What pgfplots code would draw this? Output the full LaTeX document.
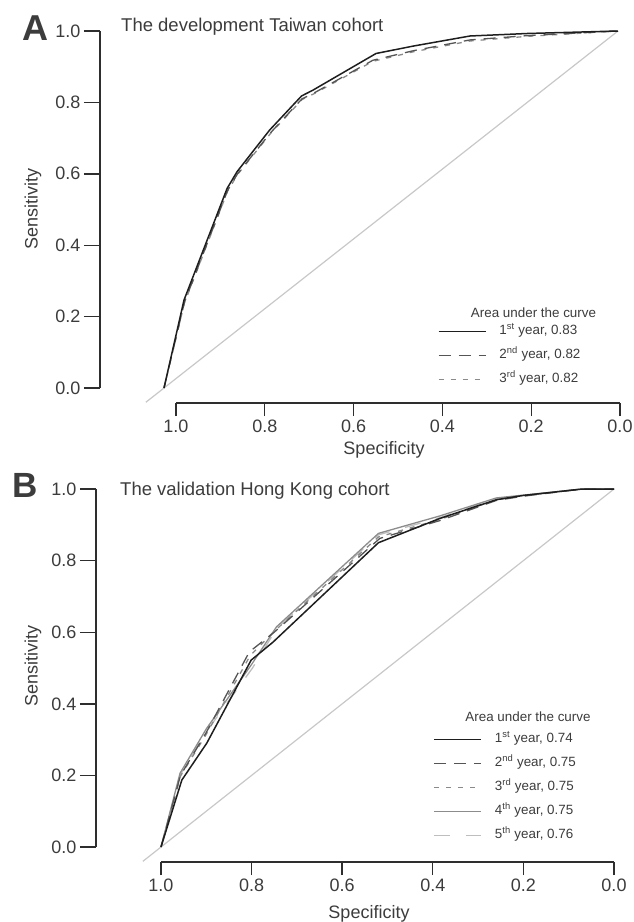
\documentclass[border=0pt]{standalone}
\usepackage{pgfplots}
\pgfplotsset{compat=1.18}
\usepackage{fontspec}
\setmainfont{Liberation Sans}

\definecolor{txt}{HTML}{3C3C3C}
\definecolor{axc}{HTML}{2E2E2E}
\definecolor{c1}{HTML}{1E1E1E}
\definecolor{c2}{HTML}{555555}
\definecolor{c3}{HTML}{8A8A8A}
\definecolor{c4}{HTML}{8C8C8C}
\definecolor{c5}{HTML}{BEBEBE}
\definecolor{diag}{HTML}{C8C8C8}

\pgfplotsset{
 roc/.style={scale only axis, xmin=0, xmax=1, ymin=0, ymax=1, x dir=reverse,
  hide axis, clip=false, reverse legend,
  legend cell align=left,
  legend style={anchor=north west, draw=none, fill=none, inner sep=0pt,
   font=\fontsize{13.4bp}{15bp}\selectfont, text=txt, column sep=13bp, row sep=11.6bp,
   nodes={inner sep=0pt, text height=9.6bp, text depth=2.8bp}},
  legend image code/.code={\draw[##1] (0bp,0bp) -- (47bp,0bp);}},
 yax/.style={scale only axis, width=10bp, xmin=0, xmax=1, ymin=0, ymax=1,
  axis y line=left, axis x line=none, axis line style={-, axc, line width=1.4bp},
  ytick={0,0.2,0.4,0.6,0.8,1}, yticklabels={0.0,0.2,0.4,0.6,0.8,1.0},
  tick align=outside, major tick length=16bp, tick style={axc, line width=1.4bp},
  yticklabel style={font=\fontsize{18bp}{21bp}\selectfont, text=txt}},
 xax/.style={scale only axis, height=1bp, xmin=0, xmax=1, ymin=0, ymax=1, x dir=reverse,
  axis x line=bottom, axis y line=none, axis line style={-, axc, line width=1.4bp},
  xtick={0,0.2,0.4,0.6,0.8,1}, xticklabels={0.0,0.2,0.4,0.6,0.8,1.0},
  tick align=outside, major tick length=13bp, tick style={axc, line width=1.4bp},
  xticklabel style={font=\fontsize{18bp}{21bp}\selectfont, text=txt}},
 diagline/.style={diag, line width=1.2bp, forget plot},
 y1/.style={c1, line width=1.5bp},
 y2/.style={c2, line width=1.3bp, dash pattern=on 12bp off 8bp},
 y3/.style={c3, line width=1.3bp, dash pattern=on 5bp off 7bp},
 y4/.style={c4, line width=1.3bp},
 y5/.style={c5, line width=1.3bp, dash pattern=on 16bp off 16bp},
}

\begin{document}
\begin{tikzpicture}
\path[use as bounding box] (0bp,0bp) rectangle (634bp,-922bp);

% ---------- panel A ----------
\begin{axis}[roc, at={(164bp,-388bp)}, anchor=south west, width=454bp, height=357bp,
 legend style={at={(0.603,0.176)}}]
\addplot[diagline] coordinates {(1.04,-0.04) (0,1)};
\addplot[y3] coordinates {
 (1.000,0.000) (0.955,0.238) (0.860,0.551) (0.838,0.598) (0.795,0.666) (0.766,0.712)
 (0.696,0.808) (0.670,0.824) (0.540,0.915) (0.450,0.942) (0.326,0.972) (0.200,0.985) (0.000,1.000)};
\addlegendentry{3\textsuperscript{rd} year, 0.82}
\addplot[y2] coordinates {
 (1.000,0.000) (0.955,0.240) (0.860,0.553) (0.838,0.600) (0.795,0.668) (0.766,0.714)
 (0.696,0.810) (0.670,0.826) (0.540,0.918) (0.450,0.945) (0.326,0.975) (0.200,0.987) (0.000,1.000)};
\addlegendentry{2\textsuperscript{nd} year, 0.82}
\addplot[y1] coordinates {
 (1.000,0.000) (0.956,0.246) (0.861,0.559) (0.839,0.606) (0.796,0.676) (0.767,0.723)
 (0.697,0.818) (0.671,0.835) (0.533,0.937) (0.450,0.958) (0.326,0.986) (0.200,0.993) (0.000,1.000)};
\addlegendentry{1\textsuperscript{st} year, 0.83}
\end{axis}

\begin{axis}[yax, at={(100bp,-388bp)}, anchor=south west, height=357bp]
\end{axis}
\begin{axis}[xax, at={(176bp,-403bp)}, anchor=south west, width=444bp]
\end{axis}

% ---------- panel B ----------
\begin{axis}[roc, at={(161bp,-847bp)}, anchor=south west, width=453bp, height=358bp,
 legend style={at={(0.601,0.318)}}]
\addplot[diagline] coordinates {(1.04,-0.04) (0,1)};
\addplot[y5] coordinates {
 (1,0) (0.958,0.200) (0.900,0.322) (0.798,0.500) (0.745,0.610) (0.520,0.872)
 (0.384,0.920) (0.260,0.973) (0.200,0.982) (0.070,1.000) (0,1)};
\addlegendentry{5\textsuperscript{th} year, 0.76}
\addplot[y4] coordinates {
 (1,0) (0.958,0.206) (0.900,0.330) (0.800,0.510) (0.745,0.615) (0.520,0.876)
 (0.384,0.925) (0.260,0.975) (0.200,0.983) (0.070,1.000) (0,1)};
\addlegendentry{4\textsuperscript{th} year, 0.75}
\addplot[y3] coordinates {
 (1,0) (0.957,0.198) (0.900,0.315) (0.803,0.535) (0.748,0.605) (0.520,0.866)
 (0.384,0.915) (0.260,0.970) (0.200,0.981) (0.070,1.000) (0,1)};
\addlegendentry{3\textsuperscript{rd} year, 0.75}
\addplot[y2] coordinates {
 (1,0) (0.957,0.200) (0.900,0.320) (0.805,0.545) (0.750,0.600) (0.517,0.862)
 (0.384,0.912) (0.260,0.968) (0.200,0.980) (0.070,1.000) (0,1)};
\addlegendentry{2\textsuperscript{nd} year, 0.75}
\addplot[y1] coordinates {
 (1,0) (0.954,0.187) (0.899,0.290) (0.801,0.522) (0.753,0.572) (0.520,0.850)
 (0.384,0.918) (0.260,0.970) (0.200,0.982) (0.070,1.000) (0,1)};
\addlegendentry{1\textsuperscript{st} year, 0.74}
\end{axis}

\begin{axis}[yax, at={(96bp,-847bp)}, anchor=south west, height=358bp]
\end{axis}
\begin{axis}[xax, at={(161bp,-862bp)}, anchor=south west, width=453bp]
\end{axis}

% ---------- text ----------
\begin{scope}[every node/.style={text=txt, inner sep=0pt}]
\node[anchor=base west, font=\fontsize{36bp}{40bp}\selectfont\bfseries] at (22bp,-40bp) {A};
\node[anchor=base west, font=\fontsize{35bp}{40bp}\selectfont\bfseries] at (12bp,-497bp) {B};
\node[anchor=base west, font=\fontsize{18.5bp}{22bp}\selectfont] at (121bp,-31.5bp) {The development Taiwan cohort};
\node[anchor=base west, font=\fontsize{18.5bp}{22bp}\selectfont] at (120bp,-495bp) {The validation Hong Kong cohort};
\node[font=\fontsize{13.4bp}{15bp}\selectfont] at (533.5bp,-313bp) {Area under the curve};
\node[font=\fontsize{13.4bp}{15bp}\selectfont] at (528bp,-717bp) {Area under the curve};
\node[font=\fontsize{18bp}{21bp}\selectfont] at (384bp,-450bp) {Specificity};
\node[font=\fontsize{18bp}{21bp}\selectfont] at (369bp,-914bp) {Specificity};
\node[rotate=90, font=\fontsize{18bp}{21bp}\selectfont] at (33bp,-209bp) {Sensitivity};
\node[rotate=90, font=\fontsize{18bp}{21bp}\selectfont] at (33bp,-666bp) {Sensitivity};
\end{scope}
\end{tikzpicture}
\end{document}
